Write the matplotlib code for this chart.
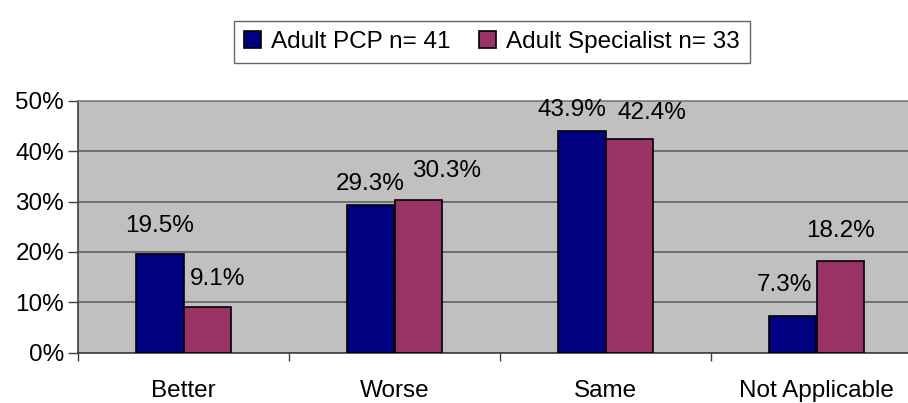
import numpy as np
import matplotlib.pyplot as plt

plt.rcParams["font.family"] = ["Liberation Sans", "DejaVu Sans"]

categorias = ["Better", "Worse", "Same", "Not Applicable"]
pcp = [19.5, 29.3, 43.9, 7.3]
especialista = [9.1, 30.3, 42.4, 18.2]
series = ["Adult PCP n= 41", "Adult Specialist n= 33"]
yticks = [0, 10, 20, 30, 40, 50]

# desplazamiento de cada etiqueta respecto al centro/tope de su barra (pixeles)
off_pcp = [(0, 28), (0, 21), (-10, 21), (-8, 31)]
off_esp = [(10, 28), (28, 29), (22, 26), (0, 30)]

W, H = 908, 403
fig = plt.figure(figsize=(W / 100, H / 100), dpi=100)
ax = fig.add_axes([78 / W, (H - 352.7) / H, 844 / W, 252 / H])
ax.set_facecolor("#C0C0C0")

x = np.arange(len(categorias))
ancho = 0.227
b1 = ax.bar(x - ancho / 2, pcp, ancho, color="#000080", edgecolor="black",
            linewidth=1.2, label=series[0], zorder=3)
b2 = ax.bar(x + ancho / 2, especialista, ancho, color="#993366", edgecolor="black",
            linewidth=1.2, label=series[1], zorder=3)

fs = 17.5
for barras, vals, offs in [(b1, pcp, off_pcp), (b2, especialista, off_esp)]:
    for b, v, (dx, dy) in zip(barras, vals, offs):
        ax.annotate(f"{v:.1f}%", (b.get_x() + b.get_width() / 2, v),
                    xytext=(dx, dy), textcoords="offset pixels",
                    ha="center", va="center", fontsize=fs, zorder=4)

ax.set_xlim(-0.5, 3.5)
ax.set_ylim(0, 50)
ax.set_yticks(yticks)
ax.set_yticklabels([f"{t}%" for t in yticks], fontsize=fs)
ax.yaxis.grid(True, color="#606060", linewidth=1.2, zorder=1)
ax.set_axisbelow(True)

ax.set_xticks(x)
ax.set_xticklabels(categorias, fontsize=fs)
ax.set_xticks(np.arange(-0.5, 4, 1), minor=True)
ax.tick_params(axis="x", which="major", length=0, pad=19.5)
ax.tick_params(axis="x", which="minor", length=6, color="#404040", width=1)
ax.tick_params(axis="y", length=7, color="#404040", width=1, pad=3)

for lado in ["top", "right"]:
    ax.spines[lado].set_color("#808080")
    ax.spines[lado].set_linewidth(1.2)
for lado in ["left", "bottom"]:
    ax.spines[lado].set_color("#404040")
    ax.spines[lado].set_linewidth(1.2)

leg = fig.legend(loc="center", bbox_to_anchor=(492 / W, 1 - 42 / H),
                 ncol=2, fontsize=fs, frameon=True, fancybox=False,
                 handlelength=0.7, handleheight=0.7, handletextpad=0.4,
                 columnspacing=1.2, borderpad=0.4, borderaxespad=0.0)
leg.get_frame().set_edgecolor("#404040")
leg.get_frame().set_linewidth(1.0)

fig.savefig("out.png", dpi=100)
